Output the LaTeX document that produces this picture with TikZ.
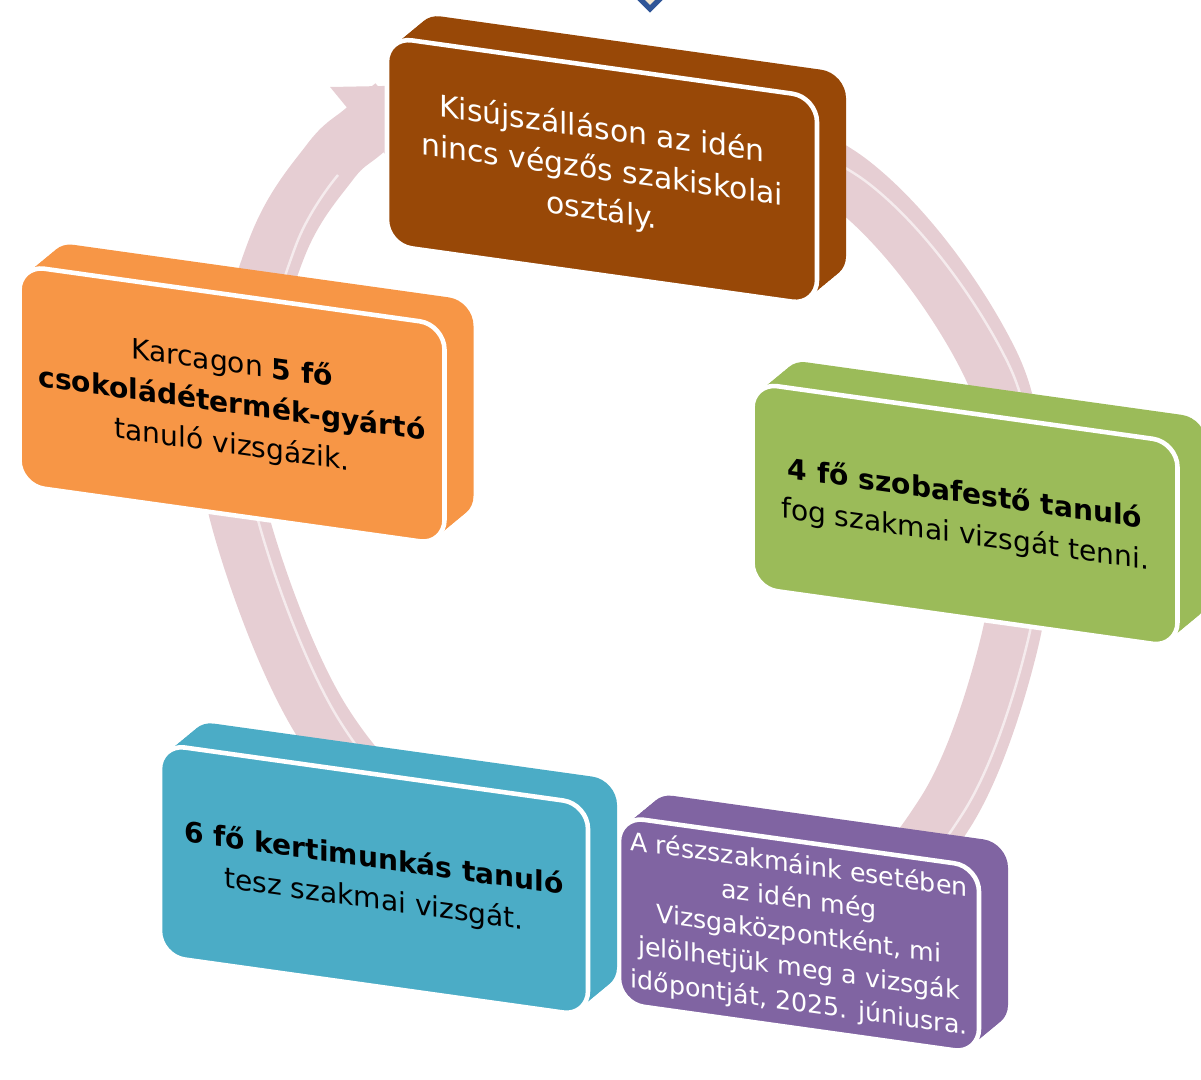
\documentclass[tikz,border=0pt]{standalone}
\usepackage{fontspec}
\setmainfont{DejaVu Sans}
\usepackage{xcolor}
\usetikzlibrary{arrows.meta, shapes.geometric}

\definecolor{brownbox}{HTML}{984807}
\definecolor{orangebox}{HTML}{F79646}
\definecolor{greenbox}{HTML}{9BBB59}
\definecolor{bluebox}{HTML}{4BACC6}
\definecolor{purplebox}{HTML}{8064A2}
\definecolor{ringpink}{HTML}{E6CED3}
\definecolor{markblue}{HTML}{2F5597}
\definecolor{markfill}{HTML}{F2E6D0}

% tilted slab: name, centre, width, height, colour, text style, text
\newcommand{\slabnode}[7]{%
  \begin{scope}[shift={#2}, yslant=-0.14]
    \foreach \t in {1,0.9,...,0.1}
      \fill[#5, rounded corners=0.25cm, shift={(0.29*\t,0.28*\t)}]
        (-#3/2,-#4/2) rectangle (#3/2,#4/2);
    \node[face, fill=#5, #6, minimum width=#3cm, minimum height=#4cm] (#1) at (0,0) {#7};
  \end{scope}}

\begin{document}
\begin{tikzpicture}[
    face/.style={rectangle, rounded corners=0.25cm, draw=white, line width=1.3pt,
      transform shape, align=center, inner sep=0pt,
      font=\fontsize{8}{11.6}\selectfont},
    ring/.style={draw=ringpink, line width=0.58cm, -{Triangle[length=0.7cm, width=1.05cm]}},
    ringshine/.style={draw=white, line width=0.7pt, opacity=0.6},
    topmark/.style={diamond, draw=markblue, line width=1.5pt, fill=markfill,
      minimum size=0.26cm, inner sep=0pt}
]
\useasboundingbox (0,0) rectangle (12.01,-10.79);

% Cycle arrow behind the slabs
\draw[ring] plot[smooth, tension=0.6] coordinates {(6.40,-0.92) (8.50,-1.83) (9.90,-3.63)
  (10.15,-5.20) (10.10,-6.40) (9.45,-8.13) (8.30,-9.20) (6.30,-9.15) (4.50,-8.50)
  (3.23,-7.23) (2.40,-5.20) (2.35,-4.00) (2.78,-2.45) (3.30,-1.62) (3.65,-1.30) (4.19,-0.85)};
\draw[ringshine, xshift=0.18cm] plot[smooth, tension=0.6] coordinates {(6.40,-0.92)
  (8.50,-1.83) (9.90,-3.63) (10.15,-5.20) (10.10,-6.40) (9.45,-8.13) (8.30,-9.20)
  (6.30,-9.15) (4.50,-8.50) (3.23,-7.23) (2.40,-5.20) (2.35,-4.00) (2.78,-2.45) (3.20,-1.75)};

% Slabs
\slabnode{kisujszallas}{(6.02,-1.71)}{4.30}{2.08}{brownbox}{text=white, font=\fontsize{8.5}{11.6}\selectfont}
  {Kisújszálláson az idén\\nincs végzős szakiskolai\\osztály.}
\slabnode{szobafesto}{(9.65,-5.15)}{4.25}{2.05}{greenbox}{text=black}
  {\textbf{4 fő szobafestő tanuló}\\fog szakmai vizsgát tenni.}
\slabnode{reszszakma}{(7.99,-9.35)}{3.60}{1.87}{purplebox}{text=white, font=\fontsize{7.2}{9.8}\selectfont}
  {A részszakmáink esetében\\az idén még\\Vizsgaközpontként, mi\\jelölhetjük meg a vizsgák\\időpontját, 2025. júniusra.}
\slabnode{kertimunkas}{(3.74,-8.80)}{4.28}{2.12}{bluebox}{text=black}
  {\textbf{6 fő kertimunkás tanuló}\\tesz szakmai vizsgát.}
\slabnode{karcag}{(2.32,-4.05)}{4.25}{2.20}{orangebox}{text=black}
  {Karcagon \textbf{5 fő}\\\textbf{csokoládétermék-gyártó}\\tanuló vizsgázik.}

% Small mark at the top edge
\node[topmark] (mark) at (6.50,0.03) {};

\end{tikzpicture}
\end{document}
